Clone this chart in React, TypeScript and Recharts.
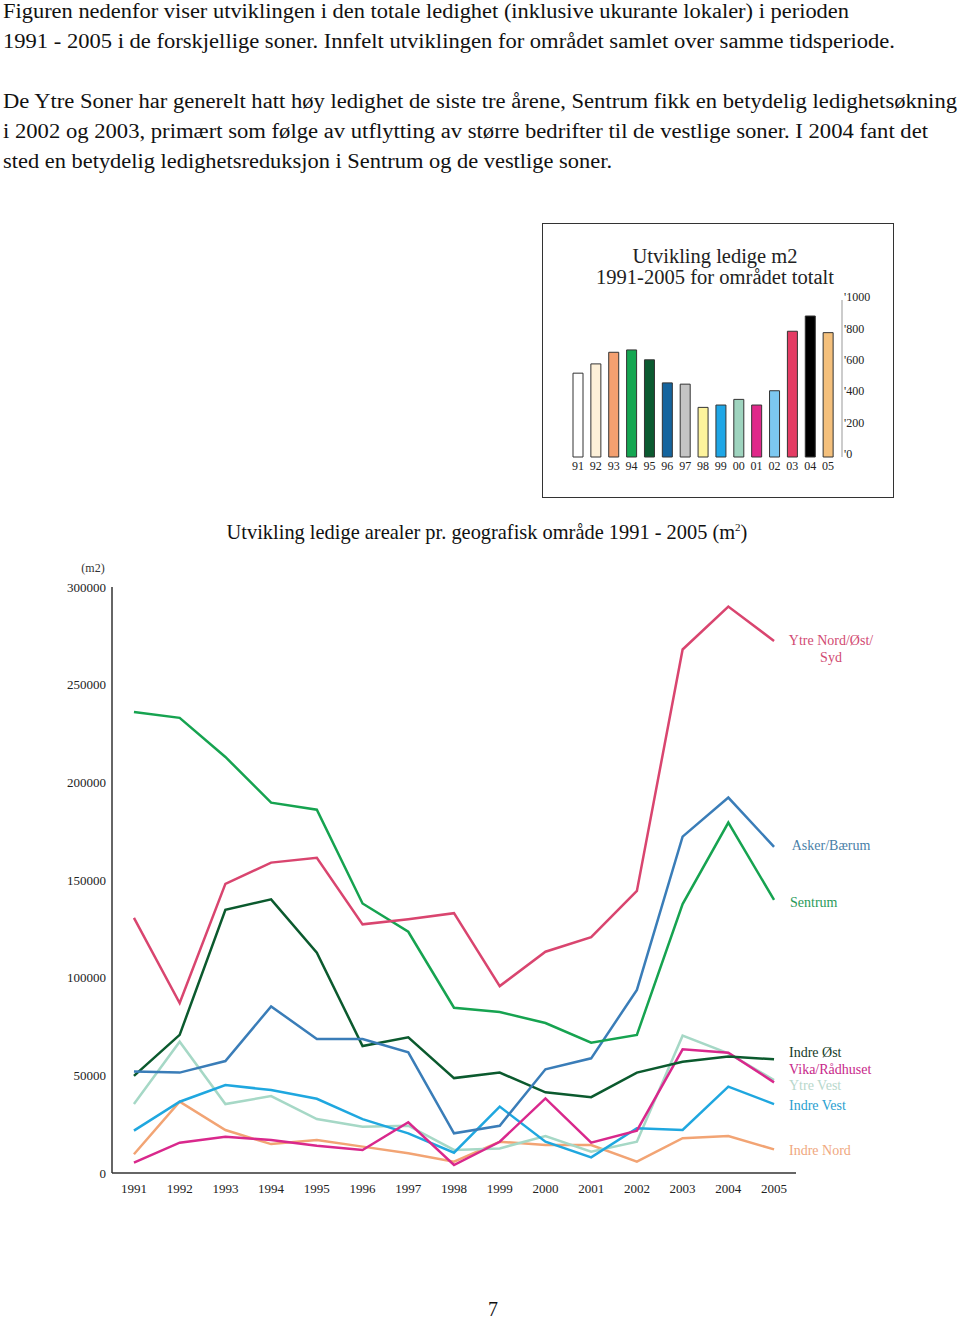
import React from 'react';
import { LineChart, Line, XAxis, YAxis, BarChart, Bar, Cell } from 'recharts';

const years = [1991, 1992, 1993, 1994, 1995, 1996, 1997, 1998, 1999, 2000, 2001, 2002, 2003, 2004, 2005];
const yTicks = [0, 50000, 100000, 150000, 200000, 250000, 300000];

const ytreNord = [130600, 87000, 148000, 158900, 161400, 127300, 129900, 133000, 95700, 113300, 120700, 144400, 268000, 290000, 272400];
const askerBaerum = [51900, 51400, 57300, 85300, 68600, 68600, 61800, 20300, 24200, 53100, 58700, 93700, 172200, 192200, 167000];
const sentrum = [236000, 233000, 213000, 189600, 186000, 138000, 123500, 84600, 82400, 76800, 66700, 70700, 137700, 179400, 139800];
const indreOst = [49700, 70700, 134700, 140100, 112800, 65000, 69500, 48600, 51400, 41300, 38800, 51400, 57000, 59600, 58200];
const vikaRadhuset = [5300, 15500, 18600, 16900, 14000, 11800, 26000, 4100, 16000, 38200, 15500, 21700, 63300, 61600, 46400];
const ytreVest = [35300, 67200, 35300, 39400, 27600, 23700, 24200, 11800, 12600, 18900, 10900, 16000, 70300, 61300, 47600];
const indreVest = [21700, 36500, 45000, 42500, 38000, 27600, 20300, 10400, 34000, 16000, 8000, 22900, 22000, 44200, 35300];
const indreNord = [9600, 36500, 22000, 14800, 16900, 13500, 10100, 5800, 16000, 14300, 14300, 5800, 17800, 18900, 12100];

const totalLabels = ['91', '92', '93', '94', '95', '96', '97', '98', '99', '00', '01', '02', '03', '04', '05'];
const totalValues = [534, 593, 667, 682, 619, 472, 464, 316, 331, 367, 331, 422, 801, 898, 792];
const totalColors = ['#ffffff', '#fdf0d8', '#f4a070', '#14a651', '#0b5a30', '#14649e', '#c4c4c4', '#fdf39c', '#1ea6e6', '#9fd4bf', '#e0288a', '#7cc8f0', '#e43c64', '#000000', '#f4c07c'];
const totalTicks = [0, 200, 400, 600, 800, 1000];

const series = [
  { key: 'indreNord', values: indreNord, color: '#f2a474' },
  { key: 'ytreVest', values: ytreVest, color: '#a6d8c6' },
  { key: 'indreVest', values: indreVest, color: '#1fa7df' },
  { key: 'vikaRadhuset', values: vikaRadhuset, color: '#d9288c' },
  { key: 'indreOst', values: indreOst, color: '#0b5a2e' },
  { key: 'askerBaerum', values: askerBaerum, color: '#3a7db8' },
  { key: 'sentrum', values: sentrum, color: '#16a350' },
  { key: 'ytreNord', values: ytreNord, color: '#d9456f' },
];

const lineData = years.map((y, i) => {
  const row: Record<string, number> = { year: y };
  series.forEach((s) => { row[s.key] = s.values[i]; });
  return row;
});

const barData = totalLabels.map((l, i) => ({ label: l, value: totalValues[i] }));

const seriesLabels = [
  { text: 'Ytre Nord/Øst/', x: 831, y: 640, color: '#d14a72', anchor: 'middle' },
  { text: 'Syd', x: 831, y: 657, color: '#d14a72', anchor: 'middle' },
  { text: 'Asker/Bærum', x: 831, y: 845, color: '#4a7fa8', anchor: 'middle' },
  { text: 'Sentrum', x: 790, y: 902, color: '#2a9a5a', anchor: 'start' },
  { text: 'Indre Øst', x: 789, y: 1052, color: '#163c28', anchor: 'start' },
  { text: 'Vika/Rådhuset', x: 789, y: 1069, color: '#c8288a', anchor: 'start' },
  { text: 'Ytre Vest', x: 789, y: 1085, color: '#b8d8cc', anchor: 'start' },
  { text: 'Indre Vest', x: 789, y: 1105, color: '#29a0d0', anchor: 'start' },
  { text: 'Indre Nord', x: 789, y: 1150, color: '#f0a880', anchor: 'start' },
];

const paraLines = [
  { text: 'Figuren nedenfor viser utviklingen i den totale ledighet (inklusive ukurante lokaler) i perioden', y: 18, w: 846 },
  { text: '1991 - 2005 i de forskjellige soner. Innfelt utviklingen for området samlet over samme tidsperiode.', y: 48, w: 892 },
  { text: 'De Ytre Soner har generelt hatt høy ledighet de siste tre årene, Sentrum fikk en betydelig ledighetsøkning', y: 108, w: 954 },
  { text: 'i 2002 og 2003, primært som følge av utflytting av større bedrifter til de vestlige soner. I 2004 fant det', y: 138, w: 925 },
  { text: 'sted en betydelig ledighetsreduksjon i Sentrum og de vestlige soner.', y: 168, w: 609 },
];

const serif = '"Liberation Serif", "DejaVu Serif", serif';

export default function App() {
  return (
    <div style={{ position: 'absolute', left: 0, top: 0, width: 960, height: 1320, background: '#fff', fontFamily: serif, overflow: 'hidden' }}>
      <svg width={960} height={1320} style={{ position: 'absolute', left: 0, top: 0, pointerEvents: 'none' }}>
        {paraLines.map((l, i) => (
          <text key={i} x={3} y={l.y} fontSize={20} fill="#111" fontFamily={serif} textLength={l.w} lengthAdjust="spacingAndGlyphs">
            {l.text}
          </text>
        ))}
        <text x={487} y={539} fontSize={20.4} fill="#111" textAnchor="middle" fontFamily={serif}>
          Utvikling ledige arealer pr. geografisk område 1991 - 2005 (m
          <tspan fontSize={11} dy={-8}>2</tspan>
          <tspan dy={8}>)</tspan>
        </text>
        <text x={93} y={572} fontSize={12} fill="#333" textAnchor="middle" fontFamily={serif}>(m2)</text>
        <text x={493} y={1316} fontSize={20} fill="#111" textAnchor="middle" fontFamily={serif}>7</text>
        <text x={715} y={263} fontSize={20} fill="#222" textAnchor="middle" fontFamily={serif} textLength={165} lengthAdjust="spacingAndGlyphs">Utvikling ledige m2</text>
        <text x={715} y={284} fontSize={20} fill="#222" textAnchor="middle" fontFamily={serif} textLength={238} lengthAdjust="spacingAndGlyphs">1991-2005 for området totalt</text>
      </svg>

      {/* inset box */}
      <div style={{ position: 'absolute', left: 542, top: 223, width: 350, height: 273, border: '1.5px solid #333' }} />
      <div style={{ position: 'absolute', left: 540, top: 220 }}>
        <BarChart width={360} height={280} data={barData} margin={{ top: 80, right: 18, bottom: 23, left: 29 }} barCategoryGap={0}>
          <XAxis dataKey="label" axisLine={false} tickLine={false} tickSize={2} interval={0} padding={{ left: 0, right: 5 }}
            tick={{ fontSize: 12, fill: '#222', fontFamily: serif }} height={20} />
          <YAxis orientation="right" domain={[0, 1000]} ticks={totalTicks} width={40} axisLine={{ stroke: '#bbb', strokeWidth: 1.5 }}
            tickLine={false} tickSize={0} tickFormatter={(v: number) => `'${v}`}
            tick={{ fontSize: 12, fill: '#222', fontFamily: serif, textAnchor: 'start', dy: -3 }} />
          <Bar dataKey="value" barSize={10} stroke="#333" strokeWidth={1} isAnimationActive={false}>
            {barData.map((d, i) => (
              <Cell key={d.label} fill={totalColors[i]} />
            ))}
          </Bar>
        </BarChart>
      </div>

      {/* main chart */}
      <div style={{ position: 'absolute', left: 0, top: 560 }}>
        <LineChart width={900} height={660} data={lineData} margin={{ top: 27, right: 104, bottom: 17, left: 52 }}>
          <XAxis dataKey="year" type="number" domain={[1990.52, 2005.48]} ticks={years} interval={0} allowDataOverflow
            axisLine={{ stroke: '#333', strokeWidth: 1.5 }} tickLine={false} tickSize={9} height={30}
            tick={{ fontSize: 13, fill: '#222', fontFamily: serif }} />
          <YAxis domain={[0, 300000]} ticks={yTicks} interval={0} width={60}
            axisLine={{ stroke: '#333', strokeWidth: 1.5 }} tickLine={false} tickSize={4}
            tick={{ fontSize: 13, fill: '#222', fontFamily: serif }} />
          {series.map((s) => (
            <Line key={s.key} dataKey={s.key} stroke={s.color} strokeWidth={2.5} dot={false} type="linear" isAnimationActive={false} />
          ))}
        </LineChart>
      </div>

      <svg width={960} height={1320} style={{ position: 'absolute', left: 0, top: 0, pointerEvents: 'none' }}>
        {seriesLabels.map((l, i) => (
          <text key={i} x={l.x} y={l.y + 5} fontSize={14} fill={l.color} textAnchor={l.anchor as any} fontFamily={serif}>{l.text}</text>
        ))}
      </svg>
    </div>
  );
}
